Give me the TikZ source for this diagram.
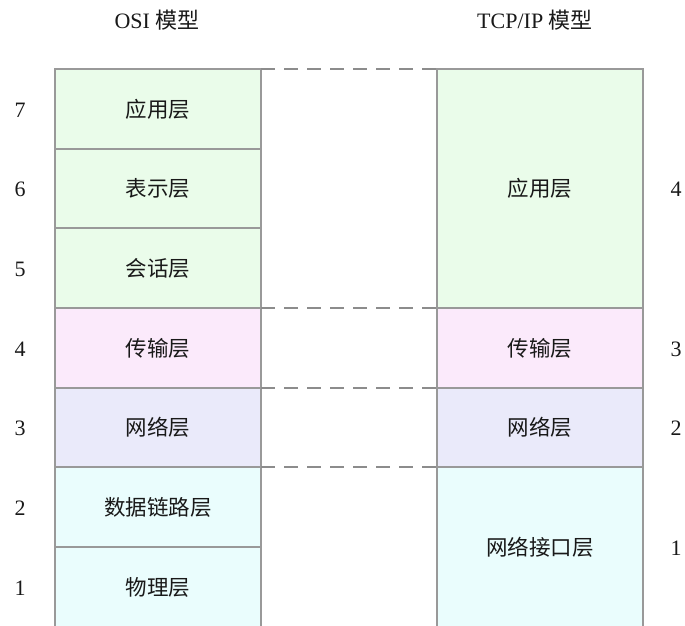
\documentclass[tikz,border=0pt]{standalone}
\usepackage{fontspec}
\setmainfont{Liberation Serif}
\newfontfamily\cjk{Noto Sans CJK SC}
\definecolor{lgreen}{HTML}{EAFCEA}
\definecolor{lpink}{HTML}{FBEAFB}
\definecolor{llav}{HTML}{EAEAFA}
\definecolor{lcyan}{HTML}{EAFDFD}
\definecolor{bord}{HTML}{999999}
\definecolor{dashc}{HTML}{8C8C8C}
\begin{document}
\begin{tikzpicture}[x=1pt,y=-1pt,
  layer/.style={minimum width=206pt,inner sep=0pt,font=\fontsize{21.5}{24}\selectfont\cjk,text=black!90},
  edge/.style={draw=bord,line width=1.7pt},
  num/.style={font=\fontsize{22}{24}\selectfont,text=black!90},
  title/.style={font=\fontsize{22}{24}\selectfont,text=black!90},
  dashline/.style={draw=dashc,line width=2pt,dash pattern=on 14pt off 9pt}]
\useasboundingbox (0,0) rectangle (685,625);
% OSI column
\node[layer,fill=lgreen,minimum height=80pt] (o7) at (158,109) {应用层};
\node[layer,fill=lgreen,minimum height=79pt] (o6) at (158,188.5) {表示层};
\node[layer,fill=lgreen,minimum height=80pt] (o5) at (158,268) {会话层};
\node[layer,fill=lpink,minimum height=80pt] (o4) at (158,348) {传输层};
\node[layer,fill=llav,minimum height=79pt] (o3) at (158,427.5) {网络层};
\node[layer,fill=lcyan,minimum height=80pt] (o2) at (158,507) {数据链路层};
\node[layer,fill=lcyan,minimum height=80pt] (o1) at (158,587) {物理层};
% TCP/IP column
\node[layer,fill=lgreen,minimum height=239pt] (t4) at (540,188.5) {应用层};
\node[layer,fill=lpink,minimum height=80pt] (t3) at (540,348) {传输层};
\node[layer,fill=llav,minimum height=79pt] (t2) at (540,427.5) {网络层};
\node[layer,fill=lcyan,minimum height=160pt] (t1) at (540,547) {网络接口层};
\foreach \n in {o7,o6,o5,o4,o3,o2,o1,t4,t3,t2,t1}
  \draw[edge] (\n.north west) rectangle (\n.south east);
% numbers
\node[num] (n7) at (20,110) {7};
\node[num] (n6) at (20,189.5) {6};
\node[num] (n5) at (20,269) {5};
\node[num] (n4) at (20,349) {4};
\node[num] (n3) at (20,428.5) {3};
\node[num] (n2) at (20,508) {2};
\node[num] (n1) at (20,588) {1};
\node[num] (m4) at (676,189.5) {4};
\node[num] (m3) at (676,349) {3};
\node[num] (m2) at (676,428.5) {2};
\node[num] (m1) at (676,548) {1};
% titles
\node[title] (ti1) at (157,20) {OSI {\cjk 模型}};
\node[title] (ti2) at (535,20) {TCP/IP {\cjk 模型}};
% dashed lines
\draw[dashline] (o7.north east) -- (t4.north west);
\draw[dashline] (o4.north east) -- (t3.north west);
\draw[dashline] (o3.north east) -- (t2.north west);
\draw[dashline] (o2.north east) -- (t1.north west);
\end{tikzpicture}
\end{document}
